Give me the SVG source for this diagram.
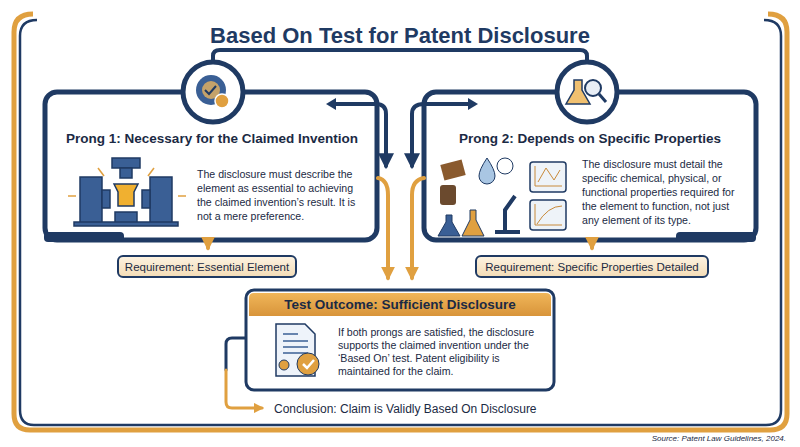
<svg xmlns="http://www.w3.org/2000/svg" width="800" height="447" viewBox="0 0 800 447">
<defs>
<style>
text{font-family:"Liberation Sans",Arial,sans-serif;fill:#1b2a44}
.t{font-size:22px;font-weight:bold;fill:#1f3a63}
.h{font-size:13.5px;font-weight:bold}
.b{font-size:10.6px}
.navy{fill:none;stroke:#1f3a63;stroke-linecap:round;stroke-linejoin:round}
.or{fill:none;stroke:#e0a040;stroke-linecap:round;stroke-linejoin:round}
.req{fill:url(#beige);stroke:#1f3a63;stroke-width:2}
</style>
<linearGradient id="beige" x1="0" y1="0" x2="0" y2="1"><stop offset="0" stop-color="#fdf3e2"/><stop offset="1" stop-color="#f3dcb6"/></linearGradient>
<linearGradient id="hdr" x1="0" y1="0" x2="0" y2="1"><stop offset="0" stop-color="#f0b659"/><stop offset="1" stop-color="#d8943a"/></linearGradient>
<marker id="an" viewBox="0 0 10 10" refX="8" refY="5" markerWidth="4" markerHeight="4" orient="auto"><path d="M0,0L10,5L0,10z" fill="#1f3a63"/></marker>
<marker id="ao" viewBox="0 0 10 10" refX="8" refY="5" markerWidth="3.5" markerHeight="3.5" orient="auto"><path d="M0,0L10,5L0,10z" fill="#e0a040"/></marker>
</defs>
<rect width="800" height="447" fill="#fff"/>
<g id="frame">
<path d="M33,14 Q14,14 14,32 V414 Q14,430 30,430 H770 Q787,430 787,414 V32 Q787,14 768,14" fill="none" stroke="#e0a040" stroke-width="5"/>
<path d="M37,20 Q20,20 20,36 V410 Q20,425 34,425 H766 Q781,425 781,410 V36 Q781,20 764,20" fill="none" stroke="#1f3a63" stroke-width="2.5"/>
</g>
<text class="t" x="400" y="43" text-anchor="middle">Based On Test for Patent Disclosure</text>
<g id="prong1">
<rect x="45" y="92" width="332" height="148" rx="12" fill="#fff" stroke="#1f3a63" stroke-width="5"/>
<rect x="44" y="232" width="80" height="10" rx="4" fill="#1f3a63"/>
<circle cx="213" cy="92" r="30" fill="#fff" stroke="#1f3a63" stroke-width="5"/>
<circle cx="211" cy="90" r="15" fill="#3a5f95"/><circle cx="211" cy="90" r="9" fill="#c4a26a"/>
<path d="M205,90 l4,4 l7,-8" stroke="#1f3a63" stroke-width="2" fill="none"/>
<circle cx="222" cy="101" r="7" fill="#e0a040" stroke="#fff" stroke-width="1.5"/>
<text class="h" x="212" y="143" text-anchor="middle">Prong 1: Necessary for the Claimed Invention</text>
<g fill="#3a5f95" stroke="#1f3a63" stroke-width="1.5">
<rect x="80" y="177" width="22" height="46"/><rect x="150" y="177" width="22" height="46"/>
<rect x="102" y="190" width="8" height="18"/><rect x="142" y="190" width="8" height="18"/>
<rect x="112" y="158" width="28" height="10"/><rect x="120" y="168" width="12" height="10"/>
<rect x="115" y="212" width="22" height="11"/><rect x="74" y="222" width="104" height="4"/>
</g>
<path d="M114,184 H138 L134,192 V206 H118 V192Z" fill="#f0b030" stroke="#1f3a63" stroke-width="1.5"/>
<g stroke="#e0a040" stroke-width="1.5"><path d="M68,196 H76"/><path d="M178,196 H186"/><path d="M98,168 L104,176"/><path d="M154,168 L148,176"/></g>
<text class="b" x="197" y="178">The disclosure must describe the</text>
<text class="b" x="197" y="192">element as essential to achieving</text>
<text class="b" x="197" y="206">the claimed invention’s result. It is</text>
<text class="b" x="197" y="220">not a mere preference.</text>
</g>
<g id="prong2">
<rect x="424" y="92" width="332" height="148" rx="12" fill="#fff" stroke="#1f3a63" stroke-width="5"/>
<rect x="676" y="232" width="80" height="10" rx="4" fill="#1f3a63"/>
<circle cx="587" cy="92" r="30" fill="#fff" stroke="#1f3a63" stroke-width="5"/>
<path d="M574,80 V90 L566,104 H590 L582,90 V80Z" fill="#f0c070" stroke="#1f3a63" stroke-width="1.5"/>
<circle cx="593" cy="88" r="8" fill="#e8eef6" stroke="#1f3a63" stroke-width="2"/>
<path d="M599,94 L606,102" stroke="#1f3a63" stroke-width="3"/>
<text class="h" x="590" y="143" text-anchor="middle">Prong 2: Depends on Specific Properties</text>
<rect x="442" y="162" width="22" height="16" fill="#8a5a2e" transform="rotate(-15 453 170)"/>
<path d="M487,158 Q495,170 495,176 A8,8 0 0 1 479,176 Q479,170 487,158Z" fill="#a9c6e3" stroke="#1f3a63"/>
<circle cx="505" cy="166" r="8" fill="#fff" stroke="#1f3a63"/>
<rect x="440" y="185" width="16" height="20" rx="3" fill="#6b4a2e"/>
<path d="M446,215 V222 L438,236 H460 L452,222 V215Z" fill="#3a5f95" stroke="#1f3a63"/>
<path d="M470,210 V220 L462,236 H484 L476,220 V210Z" fill="#e0a040" stroke="#1f3a63"/>
<path d="M495,232 H520 M505,232 V210 L515,196" stroke="#1f3a63" stroke-width="4" fill="none"/>
<rect x="530" y="162" width="36" height="30" rx="3" fill="#eef3f8" stroke="#1f3a63" stroke-width="1.5"/>
<path d="M535,186 H562 M535,186 V166 M538,182 L546,168 L554,180 L560,170" stroke="#c88a3a" fill="none"/>
<rect x="530" y="200" width="36" height="30" rx="3" fill="#eef3f8" stroke="#1f3a63" stroke-width="1.5"/>
<path d="M535,225 H562 M535,225 V204 M537,224 Q548,206 562,206" stroke="#c88a3a" fill="none"/>
<text class="b" x="582" y="168">The disclosure must detail the</text>
<text class="b" x="582" y="182">specific chemical, physical, or</text>
<text class="b" x="582" y="196">functional properties required for</text>
<text class="b" x="582" y="210">the element to function, not just</text>
<text class="b" x="582" y="224">any element of its type.</text>
</g>
<g id="connectors">
<path class="navy" stroke-width="4" d="M213,62 V56 Q213,50 220,50 H580 Q587,50 587,56 V62"/>
<path class="navy" stroke-width="4" d="M335,104 H376 Q386,104 386,114 V166" marker-end="url(#an)"/>
<path d="M336,98 L326,104 L336,110Z" fill="#1f3a63"/>
<path class="navy" stroke-width="4" d="M470,104 H424 Q412,104 412,114 V166" marker-end="url(#an)"/>
<path d="M468,98 L478,104 L468,110Z" fill="#1f3a63"/>
<path class="or" stroke-width="4" d="M378,178 Q388,180 388,195 V278" marker-end="url(#ao)"/>
<path class="or" stroke-width="4" d="M424,178 Q412,180 412,195 V278" marker-end="url(#ao)"/>
<path class="or" stroke-width="4" d="M208,240 V248" marker-end="url(#ao)"/>
<path class="or" stroke-width="4" d="M592,240 V248" marker-end="url(#ao)"/>
<path class="navy" stroke-width="3" d="M246,338 H232 Q226,338 226,344 V370"/>
<path class="or" stroke-width="3" d="M226,370 V402 Q226,408 232,408 H262" marker-end="url(#ao)"/>
</g>
<g id="req1"><rect class="req" x="118" y="256" width="178" height="21" rx="5"/>
<text x="207" y="271" font-size="11.5" text-anchor="middle">Requirement: Essential Element</text></g>
<g id="req2"><rect class="req" x="476" y="256" width="232" height="21" rx="5"/>
<text x="592" y="271" font-size="11.5" text-anchor="middle">Requirement: Specific Properties Detailed</text></g>
<g id="outcome">
<rect x="246" y="290" width="308" height="100" rx="8" fill="#fff" stroke="#1f3a63" stroke-width="3"/>
<path d="M249,316 V298 Q249,293 254,293 H546 Q551,293 551,298 V316Z" fill="url(#hdr)"/>
<text class="h" x="400" y="309" text-anchor="middle">Test Outcome: Sufficient Disclosure</text>
<path d="M276,324 H305 L315,334 V376 H276Z" fill="#eef3fa" stroke="#1f3a63" stroke-width="1.5"/>
<g stroke="#3a5f95" stroke-width="1.5"><path d="M283,334 H298"/><path d="M283,341 H308"/><path d="M283,347 H308"/><path d="M283,353 H308"/></g>
<circle cx="284" cy="365" r="5" fill="#e0a040" stroke="#1f3a63"/>
<circle cx="308" cy="364" r="11" fill="#e0a040" stroke="#1f3a63"/>
<path d="M303,364 l4,4 l7,-8" stroke="#fff" stroke-width="2.5" fill="none"/>
<text class="b" x="338" y="336">If both prongs are satisfied, the disclosure</text>
<text class="b" x="338" y="349">supports the claimed invention under the</text>
<text class="b" x="338" y="362">‘Based On’ test. Patent eligibility is</text>
<text class="b" x="338" y="375">maintained for the claim.</text>
</g>
<text x="274" y="413" font-size="12">Conclusion: Claim is Validly Based On Disclosure</text>
<text x="786" y="441" font-size="8" font-style="italic" text-anchor="end">Source: Patent Law Guidelines, 2024.</text>
</svg>
